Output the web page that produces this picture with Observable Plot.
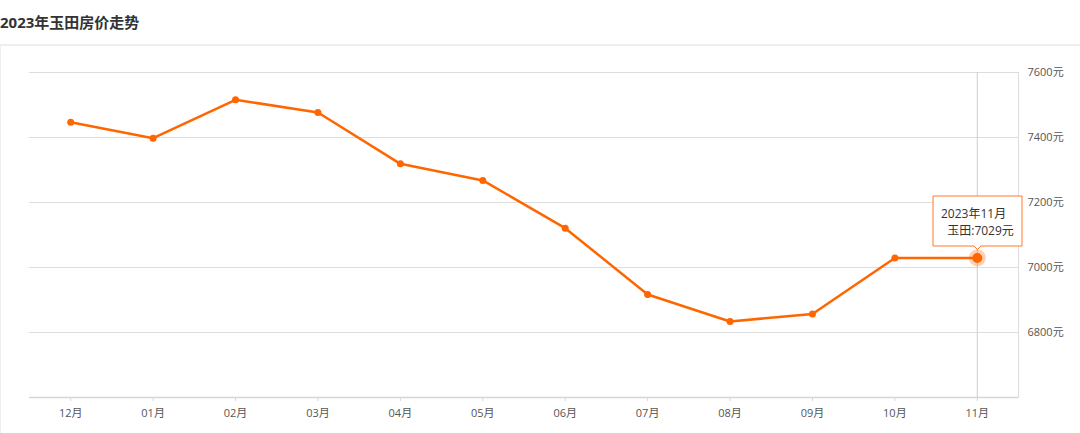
<!DOCTYPE html>
<html>
<head>
<meta charset="utf-8">
<script src="https://cdn.jsdelivr.net/npm/d3@7"></script>
<script src="https://cdn.jsdelivr.net/npm/@observablehq/plot@0.6"></script>
<style>
  html, body { margin: 0; padding: 0; background: #fff; width: 1080px; height: 433px; overflow: hidden; }
  body { font-family: "Open Sans", "Noto Sans CJK SC", sans-serif; position: relative; }
  #title { position: absolute; left: 0; top: 12px; font-size: 15px; font-weight: bold; color: #333; line-height: 20px; font-family: "Open Sans", "Noto Sans CJK SC", sans-serif; }
  #panel { position: absolute; left: 0; top: 44px; width: 1200px; height: 500px; border-top: 2px solid #eeeeee; border-left: 1px solid #eeeeee; box-sizing: border-box; pointer-events: none; }
  #chart { position: absolute; left: 0; top: 45px; }
  #chart g[aria-label="tip"] text { fill: #333; }
</style>
</head>
<body>
<div id="title">2023年玉田房价走势</div>
<div id="chart"></div>
<div id="panel"></div>
<script>
const months = ["12月","01月","02月","03月","04月","05月","06月","07月","08月","09月","10月","11月"];
const prices = [7447, 7398, 7516, 7477, 7319, 7268, 7121, 6917, 6834, 6857, 7029, 7029];
const yTicks = [6800, 7000, 7200, 7400, 7600];
const yDomain = [6600, 7600];
const place = "玉田";
const tipPeriod = "2023年11月";
const highlightMonth = "11月";

const data = months.map((m, i) => ({month: m, price: prices[i]}));
const hl = data.filter(d => d.month === highlightMonth);
const orange = "#ff6600";

const chart = Plot.plot({
  width: 1080,
  height: 388,
  marginTop: 27,
  marginBottom: 36,
  marginLeft: 29,
  marginRight: 62,
  style: {fontFamily: "'Open Sans', 'Noto Sans CJK SC', sans-serif", fontSize: "11px", color: "#555", background: "transparent"},
  x: {type: "point", domain: months, padding: 0.5, round: false, label: null},
  y: {domain: yDomain, label: null},
  marks: [
    Plot.gridY(yTicks, {stroke: "#dddddd", strokeOpacity: 1}),
    Plot.frame({anchor: "right", stroke: "#dddddd"}),
    Plot.ruleX([highlightMonth], {stroke: "#cccccc"}),
    Plot.ruleY([yDomain[0]], {stroke: "#d6d6d6", strokeWidth: 1.5}),
    Plot.axisY({anchor: "right", ticks: yTicks, tickSize: 0, tickPadding: 9, tickFormat: d => d + "元", label: null, fill: "#555"}),
    Plot.axisX({tickSize: 4, tickPadding: 8, stroke: "#d6d6d6", fill: "#555", label: null}),
    Plot.line(data, {x: "month", y: "price", stroke: orange, strokeWidth: 2.5}),
    Plot.dot(data, {x: "month", y: "price", r: 3.5, fill: orange}),
    Plot.dot(hl, {x: "month", y: "price", r: 8.5, fill: orange, fillOpacity: 0.3}),
    Plot.dot(hl, {x: "month", y: "price", r: 5, fill: orange}),
    Plot.tip(hl, {
      x: "month", y: "price",
      title: d => tipPeriod + "\n\u00a0\u00a0" + place + ":" + d.price + "元",
      anchor: "bottom",
      dy: -9,
      pointerSize: 7,
      fill: "white",
      stroke: "#ff7a2a",
      fontSize: 12,
      lineHeight: 1.4,
      pathFilter: "none"
    })
  ]
});
document.getElementById("chart").appendChild(chart);
</script>
</body>
</html>
